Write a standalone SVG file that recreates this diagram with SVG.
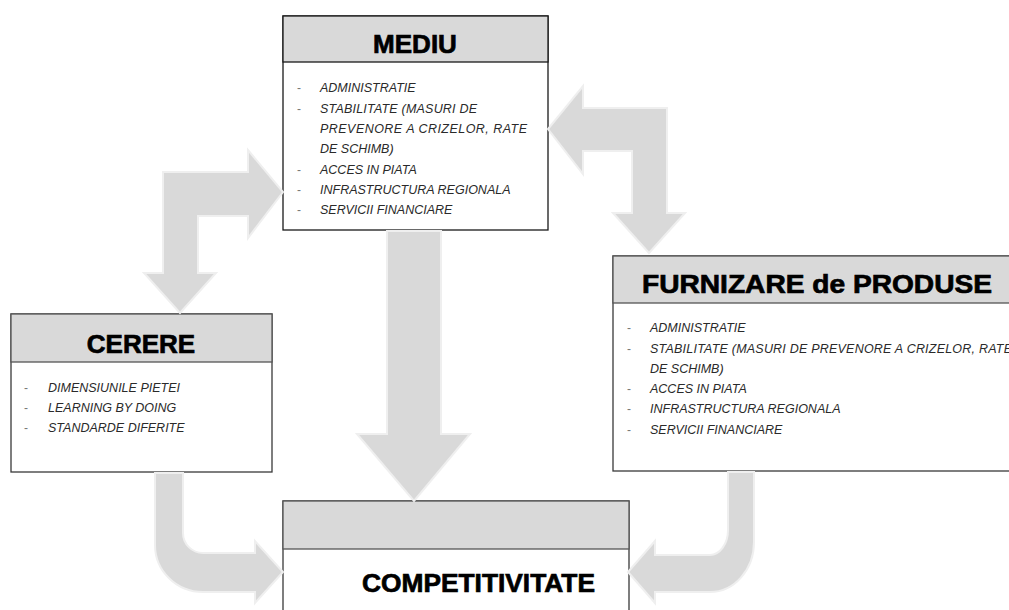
<svg xmlns="http://www.w3.org/2000/svg" width="1009" height="610" viewBox="0 0 1009 610">
  <style>
    .body { fill: #ffffff; stroke: #3a3a3a; stroke-width: 1.3; }
    .head { fill: #d9d9d9; stroke: #555555; stroke-width: 1.3; }
    .title { font-family: "Liberation Sans", Arial, sans-serif; font-weight: bold; font-size: 26px; fill: #000; stroke: #000; stroke-width: 0.7; }
    .item { font-family: "Liberation Sans", Arial, sans-serif; font-style: italic; font-size: 12.5px; fill: #2a2a2a; }
    .dash { font-family: "Liberation Sans", Arial, sans-serif; font-size: 12px; fill: #777; }
    .arrow { fill: #d9d9d9; stroke: #efefef; stroke-width: 2; stroke-linejoin: miter; }
  </style>

  <rect width="1009" height="610" fill="#ffffff"/>

  <!-- MEDIU -->
  <g id="mediu">
    <rect class="body" x="283" y="16" width="265" height="214" style="stroke:#1a1a1a"/>
    <rect class="head" x="283" y="16" width="265" height="46" style="stroke:#1a1a1a"/>
    <text class="title" x="415" y="53" text-anchor="middle" font-size="27">MEDIU</text>
    <text class="dash" x="297" y="92">-</text>
    <text class="item" x="320" y="92">ADMINISTRATIE</text>
    <text class="dash" x="297" y="112.5">-</text>
    <text class="item" x="320" y="112.5" textLength="157" lengthAdjust="spacing">STABILITATE (MASURI DE</text>
    <text class="item" x="320" y="133" textLength="207" lengthAdjust="spacing">PREVENORE A CRIZELOR, RATE</text>
    <text class="item" x="320" y="153">DE SCHIMB)</text>
    <text class="dash" x="297" y="173.5">-</text>
    <text class="item" x="320" y="173.5">ACCES IN PIATA</text>
    <text class="dash" x="297" y="194">-</text>
    <text class="item" x="320" y="194">INFRASTRUCTURA REGIONALA</text>
    <text class="dash" x="297" y="214">-</text>
    <text class="item" x="320" y="214">SERVICII FINANCIARE</text>
  </g>

  <!-- CERERE -->
  <g id="cerere">
    <rect class="body" x="11" y="314" width="261" height="158"/>
    <rect class="head" x="11" y="314" width="261" height="48"/>
    <text class="title" x="141" y="353" text-anchor="middle">CERERE</text>
    <text class="dash" x="24" y="392">-</text>
    <text class="item" x="48" y="392">DIMENSIUNILE PIETEI</text>
    <text class="dash" x="24" y="412">-</text>
    <text class="item" x="48" y="412">LEARNING BY DOING</text>
    <text class="dash" x="24" y="432">-</text>
    <text class="item" x="48" y="432">STANDARDE DIFERITE</text>
  </g>

  <!-- FURNIZARE de PRODUSE (box runs past the right edge) -->
  <g id="furnizare">
    <rect class="body" x="613" y="256" width="410" height="215"/>
    <rect class="head" x="613" y="256" width="410" height="47"/>
    <text class="title" x="642" y="293" textLength="350" lengthAdjust="spacingAndGlyphs">FURNIZARE de PRODUSE</text>
    <text class="dash" x="627" y="332">-</text>
    <text class="item" x="650" y="332">ADMINISTRATIE</text>
    <text class="dash" x="627" y="352.5">-</text>
    <text class="item" x="650" y="352.5" textLength="362" lengthAdjust="spacing">STABILITATE (MASURI DE PREVENORE A CRIZELOR, RATE</text>
    <text class="item" x="650" y="372.5">DE SCHIMB)</text>
    <text class="dash" x="627" y="392.5">-</text>
    <text class="item" x="650" y="392.5">ACCES IN PIATA</text>
    <text class="dash" x="627" y="413">-</text>
    <text class="item" x="650" y="413">INFRASTRUCTURA REGIONALA</text>
    <text class="dash" x="627" y="433.5">-</text>
    <text class="item" x="650" y="433.5">SERVICII FINANCIARE</text>
  </g>

  <!-- COMPETITIVITATE (box runs past the bottom edge) -->
  <g id="competitivitate">
    <rect class="body" x="283" y="501" width="346" height="120"/>
    <rect class="head" x="283" y="501" width="346" height="48"/>
    <text class="title" x="362" y="592" textLength="233" lengthAdjust="spacingAndGlyphs">COMPETITIVITATE</text>
  </g>

  <!-- connectors -->
  <g id="connectors">
    <!-- MEDIU down to COMPETITIVITATE -->
    <path class="arrow" d="M387,231 L441,231 L441,434 L470,434 L414,501 L357,434 L387,434 Z"/>
    <!-- two-headed bent arrow between CERERE and MEDIU -->
    <path class="arrow" d="M163,172 L248,172 L248,150 L283,192 L248,238 L248,216 L198,216 L198,273 L216,273 L180,313 L144,273 L163,273 Z"/>
    <!-- two-headed bent arrow between MEDIU and FURNIZARE -->
    <path class="arrow" d="M667,108 L583,108 L583,86 L548,129 L583,174 L583,151 L632,151 L632,213 L613,213 L649,253 L685,213 L667,213 Z"/>
    <!-- CERERE curving into COMPETITIVITATE -->
    <path class="arrow" d="M155,473 L155,545 A48,47 0 0 0 203,592 L255,592 L255,603 L283,572 L255,541 L255,553 L203,553 A20,20 0 0 1 183,533 L183,473 Z"/>
    <!-- FURNIZARE curving into COMPETITIVITATE -->
    <path class="arrow" d="M728,472 L728,530 A18,25 0 0 1 710,555 L655,555 L655,541 L628,572 L655,603 L655,592 L710,592 A44,50 0 0 0 754,542 L754,472 Z"/>
  </g>
</svg>
